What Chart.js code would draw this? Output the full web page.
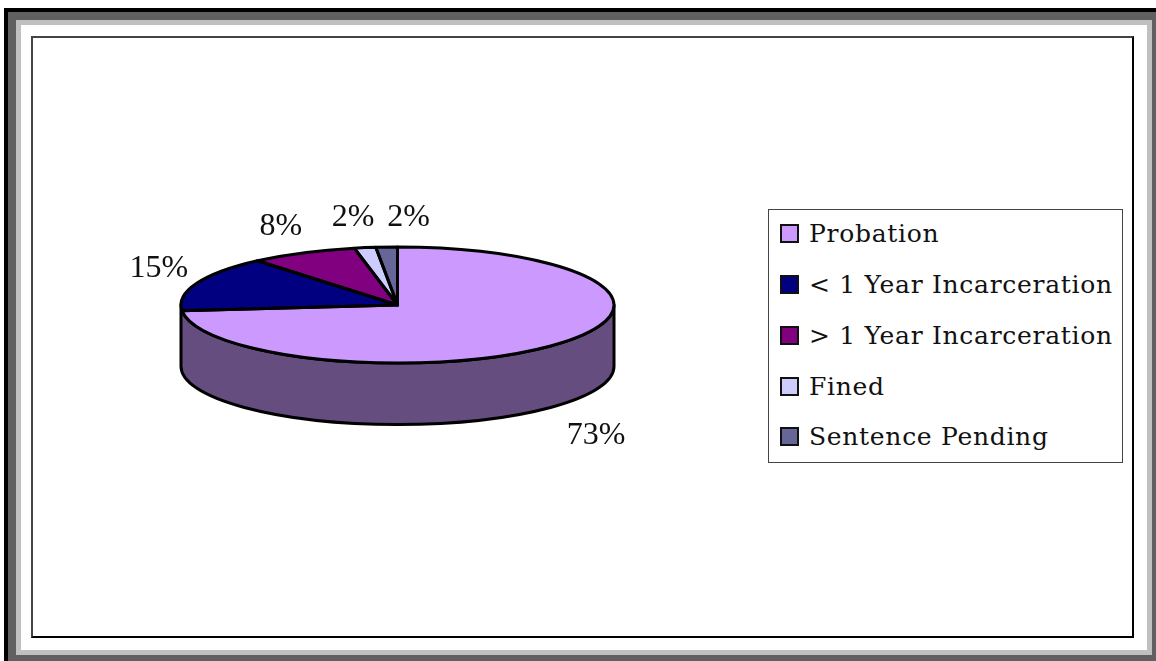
<!DOCTYPE html>
<html>
<head>
<meta charset="utf-8">
<title>Sentencing outcomes</title>
<script src="https://cdn.jsdelivr.net/npm/chart.js@4/dist/chart.umd.min.js"></script>
<style>
  html, body { margin: 0; padding: 0; background: #fff; }
  #page { position: relative; width: 1156px; height: 661px; overflow: hidden; }
  #page > div, #page > canvas { position: absolute; box-sizing: border-box; }
  .black { left: 4px; top: 8px; width: 1152px; height: 653px; background: #000; }
  .dark { left: 8px; top: 12px; width: 1148px; height: 649px; background: #606060; }
  .light { left: 16px; top: 20px; width: 1136px; height: 635px; background: #c0c0c0; }
  .white { left: 21px; top: 25px; width: 1126px; height: 625px; background: #fff; }
  .plot { left: 31px; top: 36px; width: 1103px; height: 602px; border: 2px solid #000; border-top-color: #444; border-left-color: #444; }
  #legend { left: 768px; top: 209px; width: 355px; height: 254px; border: 1px solid #444; background: #fff;
    font: 25px "DejaVu Serif", serif; letter-spacing: 0.7px; color: #111; }
  #legend .row { position: absolute; left: 11px; height: 20px; display: flex; align-items: center; white-space: nowrap; }
  #legend .swatch { width: 19px; height: 19px; box-sizing: border-box; border: 2px solid #111; margin-right: 10px; flex: none; }
</style>
</head>
<body>
<div id="page">
  <div class="black"></div>
  <div class="dark"></div>
  <div class="light"></div>
  <div class="white"></div>
  <div class="plot"></div>
  <div id="legend"></div>
  <canvas id="pie" width="1156" height="661"></canvas>
</div>
<script>
const categories = ['Probation', '< 1 Year Incarceration', '> 1 Year Incarceration', 'Fined', 'Sentence Pending'];
// estimated from the slice edges, printed rounded as 73 / 15 / 8 / 2 / 2
const shares = [73.4, 15.4, 8.0, 1.6, 1.6];
const sliceColors = ['#CC99FF', '#000080', '#800080', '#CCCCFF', '#666699'];
const sideColors = ['#664D80', '#000040', '#400040', '#666680', '#33334D'];

// where each percentage sits relative to the slice's rim
const labelNudge = [[38, 92], [-38, -15], [-22, -26], [-12, -30], [22, -29]];
const legendRows = [233, 284, 335, 386, 436];

const SQUASH = 58 / 216.5;
const DEPTH = 61.5;
const OUTLINE = 3;

// pie is drawn as a circle by Chart.js, flattened vertically around its centre
function flatten(ctx, cy) {
  ctx.translate(0, cy);
  ctx.scale(1, SQUASH);
  ctx.translate(0, -cy);
}

// traces the wall between two angles, stroke width stays untouched by the flattening
function traceWall(ctx, arc, from, to) {
  ctx.beginPath();
  ctx.save();
  flatten(ctx, arc.y);
  ctx.arc(arc.x, arc.y, arc.outerRadius, from, to);
  ctx.arc(arc.x, arc.y + DEPTH / SQUASH, arc.outerRadius, to, from, true);
  ctx.closePath();
  ctx.restore();
}

const pie3d = {
  id: 'pie3d',
  beforeDatasetsDraw(chart) {
    const ctx = chart.ctx;
    const arcs = chart.getDatasetMeta(0).data;
    ctx.save();
    arcs.forEach((arc, i) => {
      // only the part of the rim that faces the viewer gets a wall
      const from = Math.max(arc.startAngle, 0);
      const to = Math.min(arc.endAngle, Math.PI);
      if (to <= from) return;
      traceWall(ctx, arc, from, to);
      ctx.fillStyle = sideColors[i];
      ctx.fill();
    });
    traceWall(ctx, arcs[0], 0, Math.PI);
    ctx.lineWidth = OUTLINE;
    ctx.strokeStyle = '#000';
    ctx.lineJoin = 'round';
    ctx.stroke();
    ctx.restore();
  },
  beforeDatasetDraw(chart) {
    const arc = chart.getDatasetMeta(0).data[0];
    chart.ctx.save();
    flatten(chart.ctx, arc.y);
  },
  afterDatasetDraw(chart) {
    chart.ctx.restore();
  },
  afterDatasetsDraw(chart) {
    const ctx = chart.ctx;
    const arcs = chart.getDatasetMeta(0).data;
    arcs.forEach(arc => {
      ctx.save();
      ctx.beginPath();
      ctx.save();
      flatten(ctx, arc.y);
      ctx.moveTo(arc.x, arc.y);
      ctx.arc(arc.x, arc.y, arc.outerRadius, arc.startAngle, arc.endAngle);
      ctx.closePath();
      ctx.restore();
      ctx.lineWidth = OUTLINE;
      ctx.strokeStyle = '#000';
      ctx.lineJoin = 'round';
      ctx.stroke();
      ctx.restore();
    });

    ctx.save();
    ctx.font = '32px "Liberation Serif", serif';
    ctx.fillStyle = '#111';
    ctx.textAlign = 'center';
    ctx.textBaseline = 'middle';
    arcs.forEach((arc, i) => {
      const mid = (arc.startAngle + arc.endAngle) / 2;
      const rimX = arc.x + arc.outerRadius * Math.cos(mid);
      const rimY = arc.y + arc.outerRadius * SQUASH * Math.sin(mid);
      ctx.fillText(Math.round(shares[i]) + '%', rimX + labelNudge[i][0], rimY + labelNudge[i][1]);
    });
    ctx.restore();
  }
};

new Chart(document.getElementById('pie'), {
  type: 'pie',
  data: {
    labels: categories,
    datasets: [{
      data: shares,
      backgroundColor: sliceColors,
      borderWidth: 0,
      hoverOffset: 0,
      offset: 0,
      clip: false
    }]
  },
  options: {
    responsive: false,
    animation: false,
    events: [],
    layout: { padding: { left: 181, right: 542, top: 88.5, bottom: 139.5 } },
    plugins: { legend: { display: false }, tooltip: { enabled: false } }
  },
  plugins: [pie3d]
});

// Legend
const legend = document.getElementById('legend');
categories.forEach((name, i) => {
  const row = document.createElement('div');
  row.className = 'row';
  row.style.top = (legendRows[i] - 209 - 11) + 'px';
  const swatch = document.createElement('span');
  swatch.className = 'swatch';
  swatch.style.background = sliceColors[i];
  const text = document.createElement('span');
  text.textContent = name;
  row.append(swatch, text);
  legend.appendChild(row);
});
</script>
</body>
</html>
